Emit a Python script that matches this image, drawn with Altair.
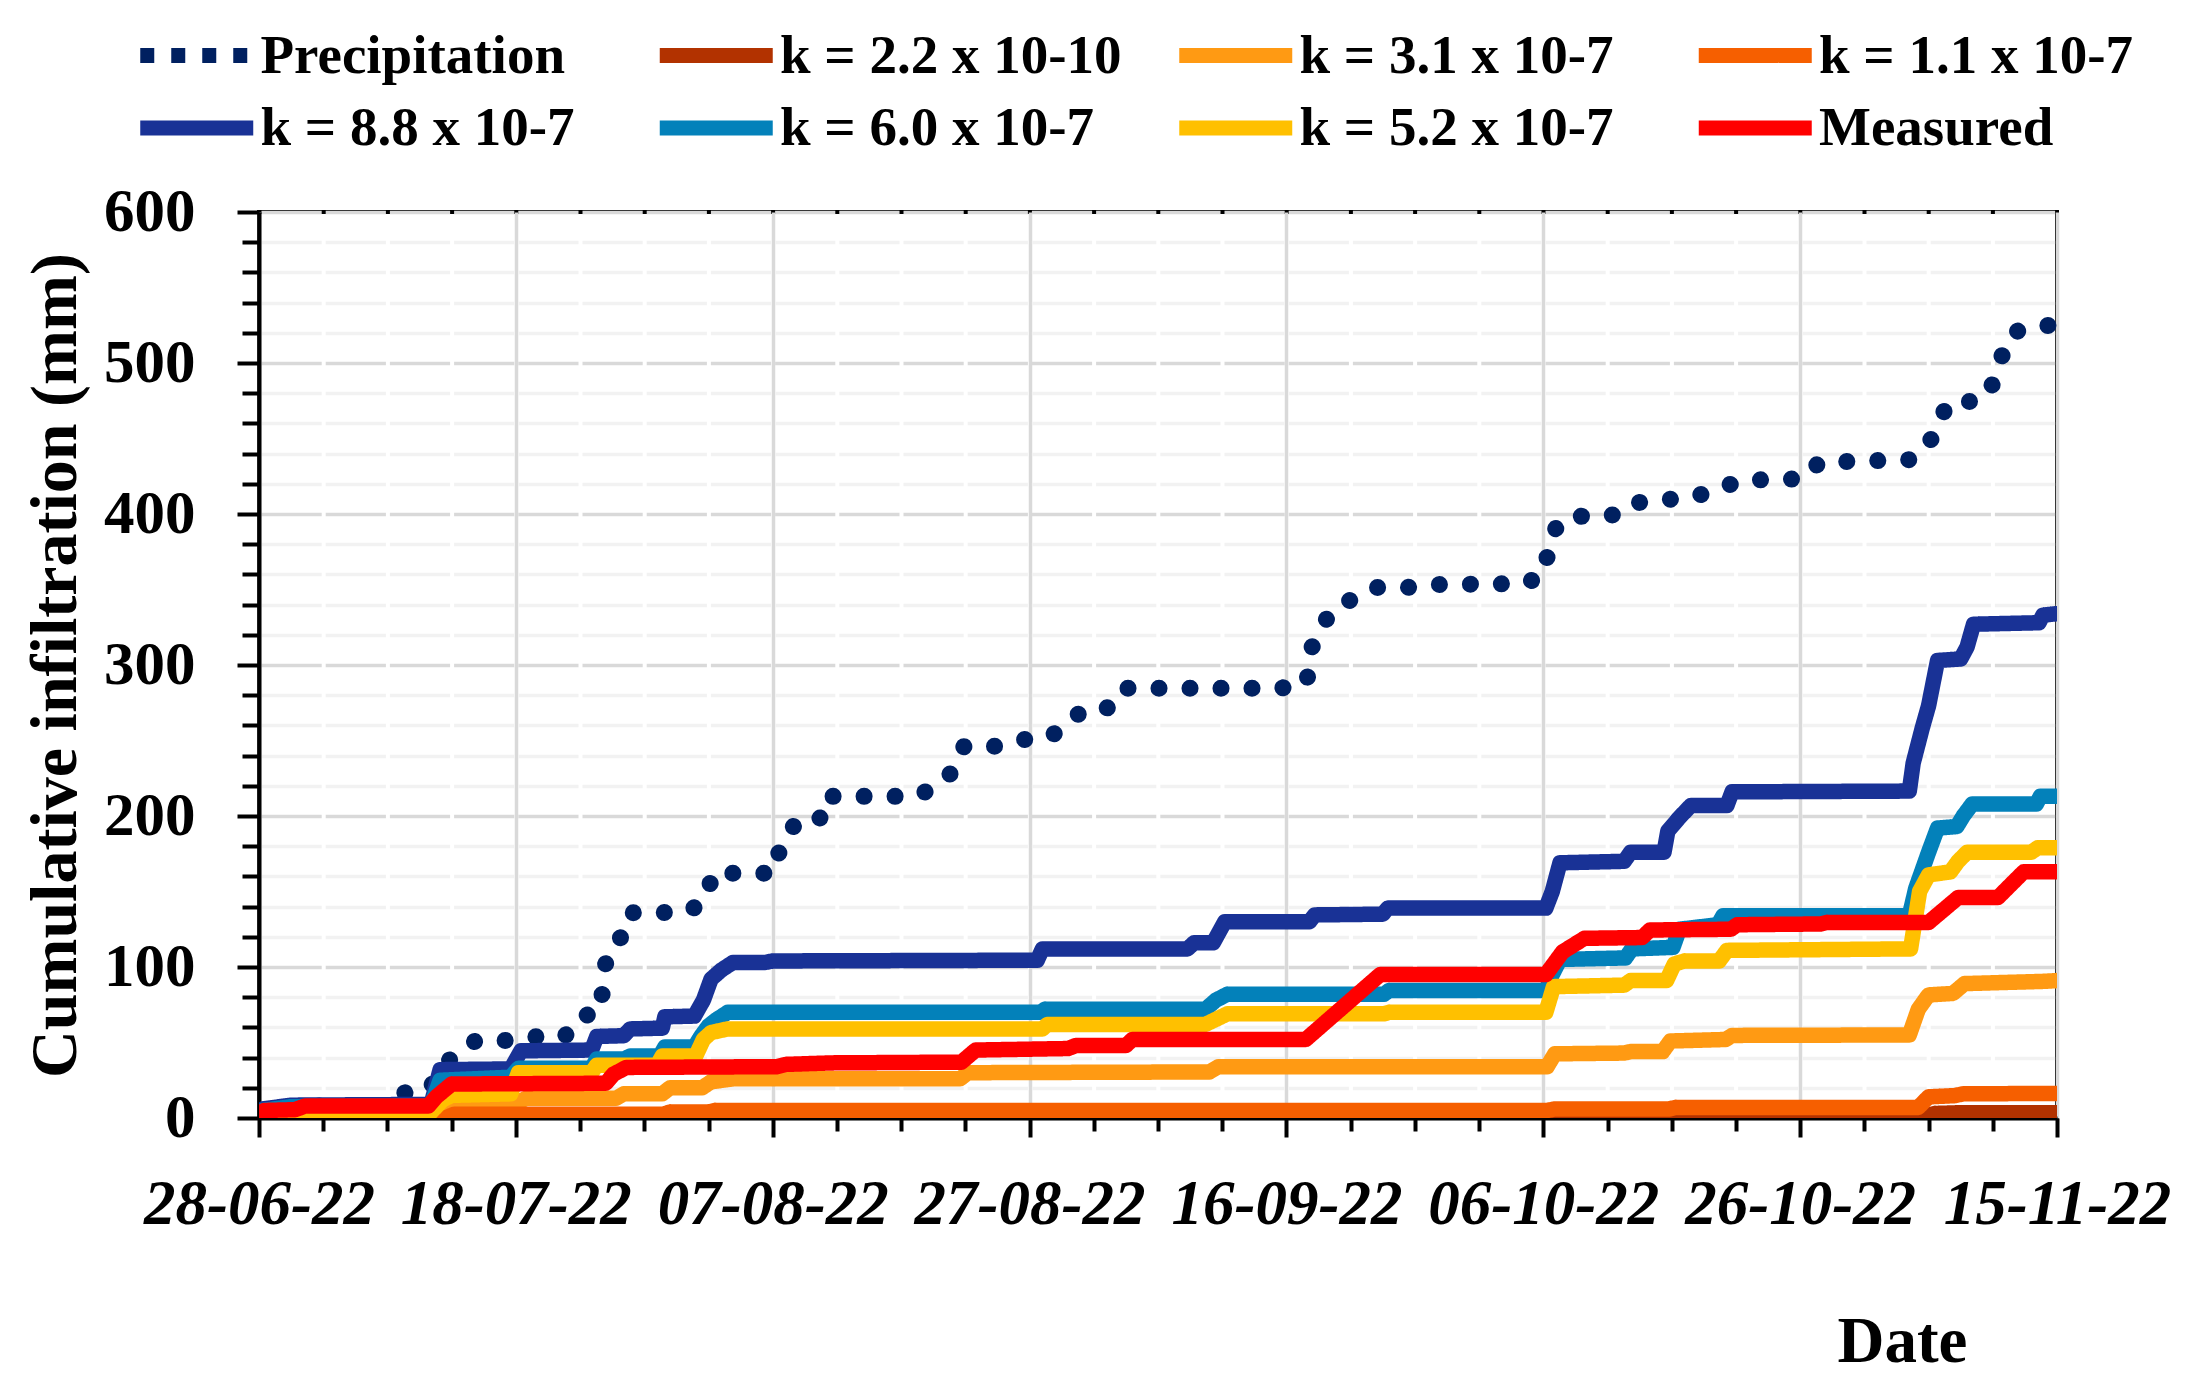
import altair as alt
import pandas as pd

START_DATE = "2022-06-28"  # day 0 of the x axis

SERIES = ["Precipitation", "k = 2.2 x 10-10", "k = 3.1 x 10-7", "k = 1.1 x 10-7",
          "k = 8.8 x 10-7", "k = 6.0 x 10-7", "k = 5.2 x 10-7", "Measured"]
COLORS = ["#002060", "#B23200", "#FF9A13", "#F65F00",
          "#193296", "#0381BA", "#FFC000", "#FF0000"]

# ---- cumulative values (day offset from 28-06-22, mm) ----
precip_day = [0, 3, 10.6, 11.2, 13.3, 14.1, 15.5, 16.9, 19.3, 21.4, 23.8, 24.8, 26.6, 26.8, 27.1,
              28.2, 28.8, 31.2, 33.5, 34.9, 35.3, 37.7, 40.1, 40.6, 41.5, 43.6, 44.0, 51.2, 52.8,
              54.1, 54.9, 57.3, 59.2, 61.4, 62.9, 64.2, 66.5, 67.5, 79.5, 81.6, 81.8, 82.6, 83.6,
              85.2, 86.9, 89.3, 91.6, 98.7, 100.2, 100.4, 101.4, 103.5, 105.9, 107.4, 109.7, 111.8,
              113.6, 115.6, 120.2, 121.5, 128.5, 130.0, 130.7, 131.7, 134.0, 135.1, 135.7, 136.5,
              138.4, 139.8]
precip_mm = [0, 8, 8, 16.5, 18.7, 34, 42.4, 51.4, 51.4, 53.8, 53.8, 66.6, 70.4, 90.5, 108.8,
             119.9, 136, 136, 136.7, 146.2, 162.1, 162.1, 162.1, 179.9, 192.9, 195.3, 213, 213, 220.1,
             230.1, 246.2, 246.2, 250.5, 251.4, 260.4, 270.6, 271.9, 284.6, 284.6, 287.6, 308.3, 323.1, 337,
             343.9, 351.3, 351.3, 353.3, 353.9, 361.9, 382.4, 396.3, 399.3, 399.3, 407.6, 409.6, 411.4,
             417, 422.4, 423.3, 434.2, 436, 445.2, 461.2, 474.5, 474.5, 487.3, 504.4, 520.1,
             524.6, 525]

k22e10_day = [0, 30, 110, 129.5, 130.5, 132.5, 140]
k22e10_mm = [0, 0.3, 1, 1, 3, 3.5, 3.5]

k31_day = [0, 14.3, 15.0, 20.3, 20.8, 27.8, 28.4, 31.4, 32.0, 34.5, 35.2, 37.0, 54.6, 55.2, 74.0,
           74.7, 100.3, 100.9, 106.3, 106.8, 109.3, 109.9, 114.2, 114.7, 128.5, 129.2, 130.0, 131.9,
           132.8, 139.0, 140]
k31_mm = [0, 0, 11, 11, 13, 13, 16, 16, 20, 20, 24, 26, 26, 30, 30.5,
          34, 34, 42.5, 43, 44, 44, 51, 52, 54.7, 55, 72, 81.5, 82.5,
          89, 90.5, 91]

k11_day = [0, 14.5, 15.2, 31.5, 32.0, 35.0, 35.5, 100.3, 100.9, 109.8, 110.3, 129.2, 130.0, 132.0,
           132.7, 140]
k11_mm = [0, 0, 2.5, 2.5, 4, 4, 5, 5, 6, 6, 7, 7, 14, 14.8, 16, 16.3]

k88_day = [0, 0.3, 2.5, 13.4, 14.1, 19.6, 20.4, 25.9, 26.3, 28.4, 28.9, 31.4, 31.6, 33.9, 34.6,
           35.2, 36.0, 36.9, 39.4, 40.0, 60.6, 61.0, 72.3, 72.8, 74.3, 75.2, 81.8, 82.2, 87.5, 87.9,
           100.2, 100.7, 101.3, 106.3, 106.8, 109.4, 109.7, 110.6, 111.5, 114.3, 114.7, 128.5, 128.8,
           129.5, 130.0, 130.7, 132.5, 133.0, 133.5, 138.6, 138.9, 140]
k88_mm = [0, 6, 8.5, 9, 32, 32.5, 44.5, 45, 54, 54.5, 59, 59.5, 67, 67.5, 78,
          92, 98, 103, 103, 104, 104.5, 112, 112, 116, 116, 130, 130, 134.5, 135, 139,
          139, 150, 169, 170, 176, 176, 190, 199, 207, 207, 216, 216.5, 235,
          258, 273, 303, 304, 312, 327, 328, 333, 334]

k60_day = [0, 0.3, 2.5, 13.4, 14.1, 19.6, 20.2, 25.9, 26.3, 28.4, 28.9, 31.2, 31.6, 33.9, 34.4,
           35.0, 35.6, 36.5, 60.8, 61.2, 73.7, 74.5, 75.4, 87.6, 88.0, 100.2, 100.7, 101.3, 106.4,
           106.9, 110.1, 110.6, 113.6, 114.0, 128.5, 129.0, 130.0, 130.7, 132.2, 132.7, 133.4, 138.4,
           138.7, 140]
k60_mm = [0, 5, 7.5, 8, 25, 27, 33, 33, 39, 39, 41, 41, 47, 47, 54,
          61, 65, 70, 70, 72, 72, 78, 82, 82, 84.5, 84.5, 95, 105, 106,
          112, 113, 125, 128, 134, 134, 152, 176, 192, 193, 200, 208, 208,
          213, 213]

k52_day = [0, 0.3, 13.3, 14.3, 15.0, 19.6, 20.2, 25.9, 26.3, 31.0, 31.4, 34.0, 34.6, 35.2, 36.5,
           61.0, 61.4, 73.7, 75.4, 87.6, 88.0, 100.2, 100.8, 106.3, 106.8, 109.6, 110.2, 111.0, 113.7,
           114.3, 128.6, 129.3, 130.0, 131.7, 132.3, 133.0, 138.0, 138.5, 140]
k52_mm = [0, 3, 3, 12, 15, 16, 30, 30, 35, 35, 41, 41, 52, 56.6, 59,
          59, 62, 62, 69, 69, 70, 70, 87, 88, 91, 91, 102, 104, 104,
          111, 112, 150, 161, 163, 170, 176, 176, 179, 179]

meas_day = [0, 0.4, 2.8, 3.6, 13.2, 13.8, 15.0, 27.0, 27.6, 28.6, 40.3, 41.0, 44.6, 54.7, 55.8,
            63.0, 63.6, 67.5, 68.0, 81.5, 87.3, 100.2, 101.5, 103.2, 107.7, 108.3, 114.6, 115.1,
            121.6, 122.1, 130.0, 132.3, 135.4, 137.4, 140]
meas_mm = [0, 5, 5.5, 8, 8, 14, 22.5, 23, 29, 33.5, 34, 35.5, 36.5, 37, 45,
           46, 48, 48, 52, 52, 95, 95, 110, 119, 119.5, 124.5, 125, 128,
           128.5, 129.5, 129.5, 146, 146, 163, 163]

SERIES_DATA = [(precip_day, precip_mm), (k22e10_day, k22e10_mm), (k31_day, k31_mm),
               (k11_day, k11_mm), (k88_day, k88_mm), (k60_day, k60_mm),
               (k52_day, k52_mm), (meas_day, meas_mm)]

rows = []
for name, (days, vals) in zip(SERIES, SERIES_DATA):
    for d, v in zip(days, vals):
        rows.append({"series": name, "day": d, "mm": v})
df = pd.DataFrame(rows)

# legend symbol dashes (square dots for the dotted series)
LEGEND_DASHES = [[14, 17]] + [[1, 0]] * 7

SERIF = "Liberation Serif"
IS_PRECIP = "datum.series === 'Precipitation'"

x_axis = alt.Axis(
    values=list(range(0, 141, 5)),
    labelExpr="datum.value % 20 === 0 ? utcFormat(utc(2022, 5, 28) + datum.value * 86400000, '%d-%m-%y') : ''",
    labelFont=SERIF, labelFontSize=63, labelFontWeight="bold", labelFontStyle="italic",
    labelColor="black", labelBaseline="middle", labelPadding=67, labelOverlap=False,
    labelFlush=False, labelLimit=500,
    tickColor="black", tickWidth=4,
    tickSize=alt.condition("datum.value % 20 === 0", alt.value(19), alt.value(13)),
    domainColor="black", domainWidth=4,
    grid=True, gridColor="#D9D9D9", gridWidth=3.5,
    gridOpacity=alt.condition("datum.value % 20 === 0", alt.value(1), alt.value(0)),
    title="Date", titleFont=SERIF, titleFontSize=65, titleFontWeight="bold", titleColor="black",
    titleX=1643, titleY=243, titleBaseline="alphabetic", titleAlign="center", titleAnchor="start",
    zindex=0,
)

y_axis = alt.Axis(
    values=list(range(0, 601, 20)),
    labelExpr="datum.value % 100 === 0 ? datum.label : ''",
    labelFont=SERIF, labelFontSize=61, labelFontWeight="bold", labelColor="black",
    labelPadding=42, labelOverlap=False, labelFlush=False,
    tickColor="black", tickWidth=4,
    tickSize=alt.condition("datum.value % 100 === 0", alt.value(22), alt.value(17)),
    domainColor="black", domainWidth=4,
    grid=True,
    gridColor=alt.condition("datum.value % 100 === 0", alt.value("#D9D9D9"), alt.value("#F2F2F2")),
    gridWidth=3.5, gridDash=[60.2, 4.0], gridDashOffset=62.2,
    title="Cumulative infiltration (mm)", titleFont=SERIF, titleFontSize=66,
    titleFontWeight="bold", titleColor="black",
    titleX=-204, titleY=453, titleAngle=270, titleBaseline="middle", titleAlign="center",
    titleAnchor="start",
    zindex=0,
)

x_enc = alt.X("day:Q", scale=alt.Scale(domain=[0, 140], nice=False, zero=False), axis=x_axis)
y_enc = alt.Y("mm:Q", scale=alt.Scale(domain=[0, 600], nice=False), axis=y_axis)
color_scale = alt.Scale(domain=SERIES, range=COLORS)

# long horizontal stroke symbol: twice as wide as its nominal symbol size
legend = alt.Legend(
    orient="none", legendX=-98.25, legendY=-192.5, columns=4, direction="horizontal",
    title=None, gridAlign="all", columnPadding=26.5, rowPadding=6.5,
    symbolType="M-2,0L2,0", symbolSize=3192, symbolStrokeWidth=15, symbolOpacity=1,
    labelFont=SERIF, labelFontSize=55, labelFontWeight="bold", labelColor="black",
    labelOffset=27.75, labelLimit=1000, padding=0,
)

# layer that only provides the legend (no rows drawn)
legend_layer = alt.Chart(df).transform_filter("false").mark_line().encode(
    x=x_enc,
    y=y_enc,
    color=alt.Color("series:N", scale=color_scale, sort=SERIES, legend=legend),
    strokeDash=alt.StrokeDash("series:N", sort=SERIES,
                              scale=alt.Scale(domain=SERIES, range=LEGEND_DASHES),
                              legend=legend),
)

lines = alt.Chart(df).mark_line(
    strokeCap="round", strokeJoin="round", clip=True
).encode(
    x=x_enc,
    y=y_enc,
    color=alt.Color("series:N", scale=color_scale, sort=SERIES, legend=legend),
    strokeDash=alt.condition(IS_PRECIP, alt.value([0.1, 30.9]), alt.value([1, 0])),
    strokeWidth=alt.condition(IS_PRECIP, alt.value(17), alt.value(15.5)),
)

chart = alt.layer(legend_layer, lines).properties(
    width=1798, height=906,
    autosize=alt.AutoSizeParams(type="none"),
    padding={"left": 251, "top": 204, "right": 125, "bottom": 261},
    background="white",
).configure_view(
    stroke="black", strokeWidth=4
)

chart.save("out.html", embed_options={"renderer": "svg", "actions": False})
